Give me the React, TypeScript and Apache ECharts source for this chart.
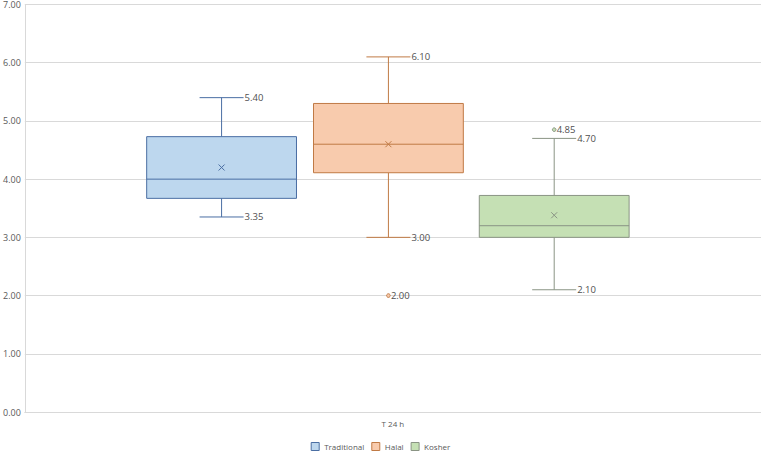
import React, { useEffect, useRef } from "react";
import * as echarts from "echarts";

const categories = ["T 24 h"];
const groupNames = ["Traditional", "Halal", "Kosher"];
// [min whisker, Q1, median, Q3, max whisker, mean]
const traditionalStats = [3.35, 3.67, 4.0, 4.73, 5.4, 4.2];
const halalStats = [3.0, 4.11, 4.6, 5.3, 6.1, 4.6];
const kosherStats = [2.1, 3.0, 3.2, 3.72, 4.7, 3.38];
const halalOutliers = [2.0];
const kosherOutliers = [4.85];
const yTicks = [0, 1, 2, 3, 4, 5, 6, 7];

const fills = ["#bdd7ee", "#f8cbad", "#c5e0b4"];
const strokes = ["#4a6ea3", "#c07a45", "#8a9484"];
const offsets = [-0.2327, -0.0061, 0.2191];
const FONT = "'Open Sans', 'Liberation Sans', sans-serif";

export default function App() {
  const ref = useRef<HTMLDivElement>(null);
  useEffect(() => {
    if (!ref.current) return;
    const chart = echarts.init(ref.current, undefined, { renderer: "svg" });
    const statsList = [traditionalStats, halalStats, kosherStats];
    const outlierList = [[], halalOutliers, kosherOutliers];

    const boxSeries = groupNames.map((name, gi) => ({
      type: "custom",
      name,
      itemStyle: { color: fills[gi], borderColor: strokes[gi], borderWidth: 1 },
      data: [[0, ...statsList[gi]]],
      encode: { x: 0, y: [1, 2, 3, 4, 5] },
      renderItem: (params: any, api: any) => {
        const band = api.size([1, 0])[0];
        const c = api.coord([api.value(0), 0]);
        const cx = c[0] + offsets[gi] * band;
        const bw = band * 0.2035;
        const y = (v: number) => api.coord([0, v])[1];
        const mn = api.value(1), q1 = api.value(2), md = api.value(3), q3 = api.value(4), mx = api.value(5), mean = api.value(6);
        const stroke = strokes[gi];
        const ls = { stroke, lineWidth: 1, fill: "none" };
        const capHalf = 22;
        const textStyle = (t: string, yy: number) => ({
          type: "text",
          style: { text: t, x: cx + capHalf + 1, y: yy, fill: "#505050", font: `9.5px ${FONT}`, verticalAlign: "middle" },
        });
        const ms = 3;
        const my = y(mean);
        return {
          type: "group",
          children: [
            { type: "line", shape: { x1: cx, y1: y(mx), x2: cx, y2: y(q3) }, style: ls },
            { type: "line", shape: { x1: cx, y1: y(q1), x2: cx, y2: y(mn) }, style: ls },
            { type: "line", shape: { x1: cx - capHalf, y1: y(mx), x2: cx + capHalf, y2: y(mx) }, style: ls },
            { type: "line", shape: { x1: cx - capHalf, y1: y(mn), x2: cx + capHalf, y2: y(mn) }, style: ls },
            { type: "rect", shape: { x: cx - bw / 2, y: y(q3), width: bw, height: y(q1) - y(q3) }, style: { fill: fills[gi], stroke, lineWidth: 1 } },
            { type: "line", shape: { x1: cx - bw / 2, y1: y(md), x2: cx + bw / 2, y2: y(md) }, style: ls },
            { type: "line", shape: { x1: cx - ms, y1: my - ms, x2: cx + ms, y2: my + ms }, style: ls },
            { type: "line", shape: { x1: cx - ms, y1: my + ms, x2: cx + ms, y2: my - ms }, style: ls },
            textStyle(mx.toFixed(2), y(mx)),
            textStyle(mn.toFixed(2), y(mn)),
          ],
        };
      },
    }));

    const outlierData: number[][] = [];
    outlierList.forEach((arr, gi) => arr.forEach((v) => outlierData.push([0, v, gi])));

    const outlierSeries = {
      type: "custom",
      name: "outliers",
      data: outlierData,
      encode: { x: 0, y: 1 },
      renderItem: (params: any, api: any) => {
        const band = api.size([1, 0])[0];
        const gi = api.value(2);
        const p = api.coord([api.value(0), api.value(1)]);
        const cx = p[0] + offsets[gi] * band;
        return {
          type: "group",
          children: [
            { type: "circle", shape: { cx, cy: p[1], r: 1.8 }, style: { fill: fills[gi], stroke: strokes[gi], lineWidth: 1 } },
            { type: "text", style: { text: api.value(1).toFixed(2), x: cx + 2.5, y: p[1], fill: "#505050", font: `9.5px ${FONT}`, verticalAlign: "middle" } },
          ],
        };
      },
    };

    chart.setOption({
      animation: false,
      textStyle: { fontFamily: FONT },
      grid: { left: 24, right: 0, top: 2, bottom: 41, containLabel: false },
      legend: {
        top: 437,
        left: "center",
        padding: 5,
        itemWidth: 8,
        itemHeight: 8,
        itemGap: 7,
        icon: "rect",
        textStyle: { fontSize: 8, color: "#595959", fontFamily: FONT },
        data: groupNames.map((n, gi) => ({ name: n, itemStyle: { color: fills[gi], borderColor: strokes[gi], borderWidth: 1 } })),
      },
      xAxis: {
        type: "category",
        data: categories,
        axisLine: { show: true, lineStyle: { color: "#d9d9d9" } },
        axisTick: { show: false },
        axisLabel: { fontSize: 8, color: "#595959", margin: 7 },
      },
      yAxis: {
        type: "value",
        min: yTicks[0],
        max: yTicks[yTicks.length - 1],
        interval: 1,
        axisLine: { show: true, lineStyle: { color: "#d9d9d9" } },
        axisTick: { show: false },
        splitLine: { lineStyle: { color: "#d9d9d9" } },
        axisLabel: { fontSize: 9, color: "#595959", margin: 4, formatter: (v: number) => v.toFixed(2) },
      },
      series: [...boxSeries, outlierSeries],
    });
    return () => chart.dispose();
  }, []);
  return <div ref={ref} style={{ width: 761, height: 453, position: "absolute", left: 0, top: 0 }} />;
}
